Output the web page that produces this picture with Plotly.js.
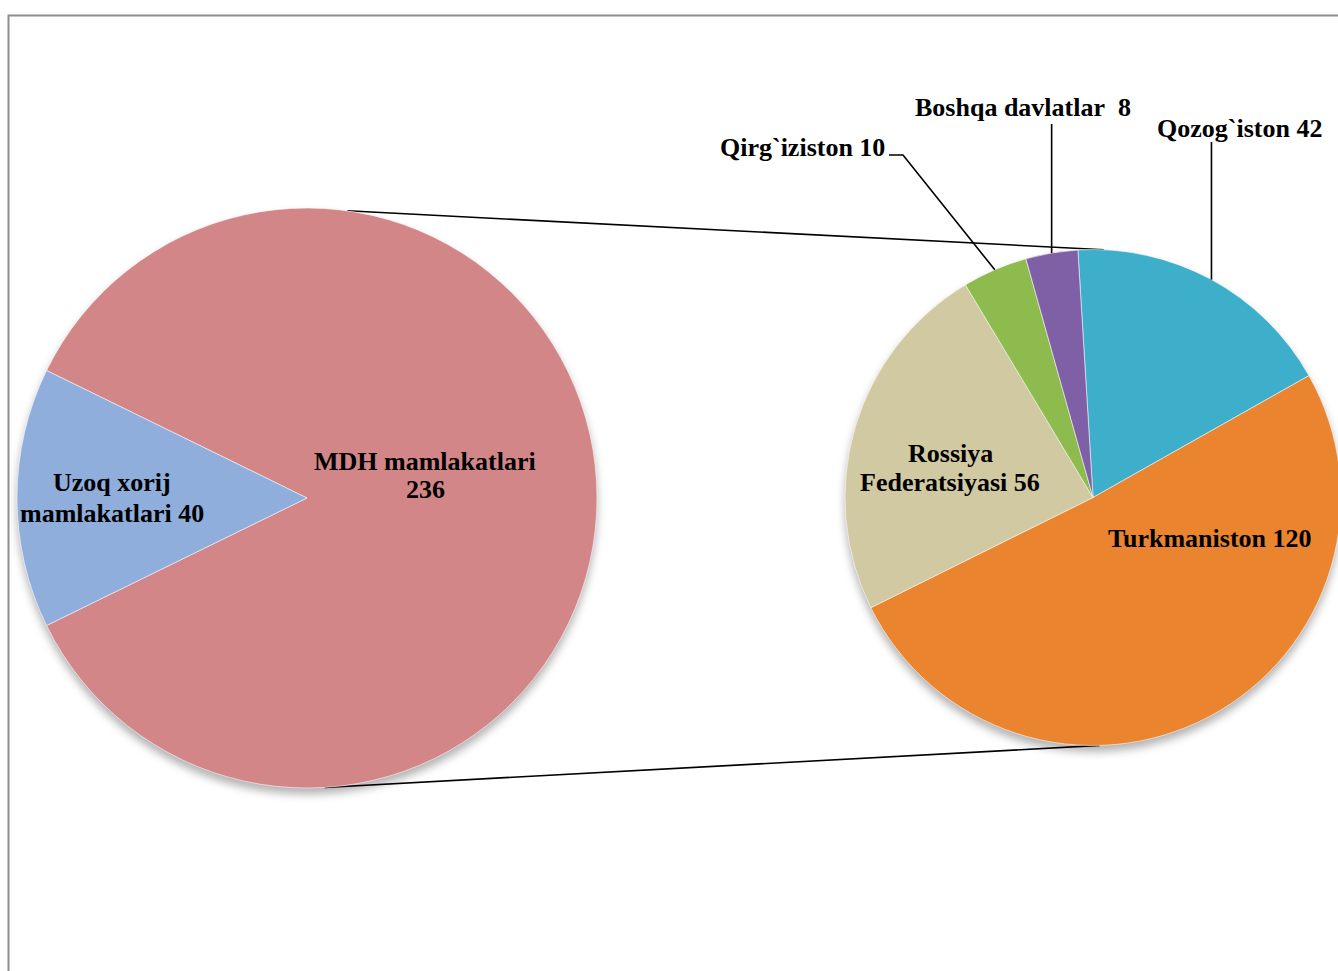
<!DOCTYPE html>
<html><head><meta charset="utf-8">
<script src="https://cdn.plot.ly/plotly-3.0.1.min.js"></script>
<style>
html,body{margin:0;padding:0;overflow:hidden;background:#fff;width:1338px;height:971px}
#chart{width:1345px;height:971px}
.pielayer .trace{filter: drop-shadow(0px 6px 4px rgba(0,0,0,0.30));}
</style></head><body><div id="chart"></div>
<script>
// ---- data ----
const mainLabels = ["MDH mamlakatlari", "Uzoq xorij mamlakatlari"];
const mainValues = [236, 40];
const subLabels = ["Qozog`iston", "Turkmaniston", "Rossiya Federatsiyasi", "Qirg`iziston", "Boshqa davlatlar"];
const subValues = [42, 120, 56, 10, 8];

// ---- styles ----
const mainColors = ["#D38688", "#8FAEDC"];
const subColors = ["#3EAFCB", "#EA842F", "#D1C9A1", "#8EBB4E", "#7F60A6"];

const W = 1345, H = 971;
const L = {cx: 307, cy: 498, r: 290};
const R = {cx: 1093, cy: 497.5, r: 248};
const px = x => x / W, py = y => 1 - y / H;
function dom(g){ return {x:[px(g.cx-g.r), px(g.cx+g.r)], y:[py(g.cy+g.r), py(g.cy-g.r)]}; }
function edge(g, deg, f){ f = f||1; const a = deg*Math.PI/180; return [g.cx + f*g.r*Math.sin(a), g.cy - f*g.r*Math.cos(a)]; }
const sum = a => a.reduce((s,v)=>s+v,0);
function midAngles(values, rot){ const t = sum(values); let c = rot; return values.map(v=>{const m = c + v/t*180; c += v/t*360; return m;}); }

const mainRot = 270 - (mainValues[0] + mainValues[1]/2)/sum(mainValues)*360;
const subRot = -3.5;
const subMid = midAngles(subValues, subRot);

const sliceLine = {color: 'rgba(255,255,255,0.55)', width: 1};
const traces = [
  {type:'pie', labels: mainLabels, values: mainValues, sort:false, direction:'clockwise', rotation: mainRot,
   marker:{colors: mainColors, line: sliceLine}, textinfo:'none', hoverinfo:'none', domain: dom(L)},
  {type:'pie', labels: subLabels, values: subValues, sort:false, direction:'clockwise', rotation: subRot,
   marker:{colors: subColors, line: sliceLine}, textinfo:'none', hoverinfo:'none', domain: dom(R)}
];

const font = {family:'"Liberation Serif", "Times New Roman", serif', size:26, color:'#000', weight:'bold'};
function ann(text, x, y){ return {text, x: px(x), y: py(y), xref:'paper', yref:'paper', showarrow:false, xanchor:'center', yanchor:'middle', font}; }
const annotations = [
  ann(mainLabels[0], 425, 461), ann(String(mainValues[0]), 425, 490),
  ann("Uzoq xorij", 112, 483), ann("mamlakatlari " + mainValues[1], 112, 513),
  ann("Rossiya", 950, 453), ann("Federatsiyasi " + subValues[2], 950, 483),
  ann(subLabels[1] + " " + subValues[1], 1210, 538),
  ann(subLabels[0] + " " + subValues[0], 1239, 129),
  ann(subLabels[4] + "\u00A0\u00A0" + subValues[4], 1023, 108),
  ann(subLabels[3] + " " + subValues[3], 802, 148)
];

function path(pts){ return 'M ' + pts.map(p => px(p[0]) + ' ' + py(p[1])).join(' L '); }
const lineStyle = {color:'#000', width:1.6};
const eQ = edge(R, subMid[0]), eB = edge(R, subMid[4]), eK = edge(R, subMid[3]);
const shapes = [
  // frame
  {type:'path', xref:'paper', yref:'paper', path: path([[8.5, H+10],[8.5, 15.5],[W+10, 15.5]]), line:{color:'#8e8e8e', width:2}},
  // connectors (behind pies)
  {type:'line', xref:'paper', yref:'paper', layer:'below', x0: px(edge(L, 8)[0]), y0: py(edge(L, 8)[1]), x1: px(edge(R, 2.5)[0]), y1: py(edge(R, 2.5)[1]), line: lineStyle},
  {type:'line', xref:'paper', yref:'paper', layer:'below', x0: px(edge(L, 176.5)[0]), y0: py(edge(L, 176.5)[1]), x1: px(edge(R, 178.5)[0]), y1: py(edge(R, 178.5)[1]), line: lineStyle},
  // leader lines
  {type:'path', xref:'paper', yref:'paper', path: path([[eQ[0], 142], eQ]), line: lineStyle},
  {type:'path', xref:'paper', yref:'paper', path: path([[eB[0], 124], eB]), line: lineStyle},
  {type:'path', xref:'paper', yref:'paper', path: path([[889, 155], [903, 155], eK]), line: lineStyle}
];

Plotly.newPlot('chart', traces, {
  width: W, height: H, margin:{l:0,r:0,t:0,b:0}, showlegend:false,
  paper_bgcolor:'#fff', plot_bgcolor:'#fff', hovermode:false,
  annotations, shapes
}, {displayModeBar:false, staticPlot:true});
</script></body></html>
